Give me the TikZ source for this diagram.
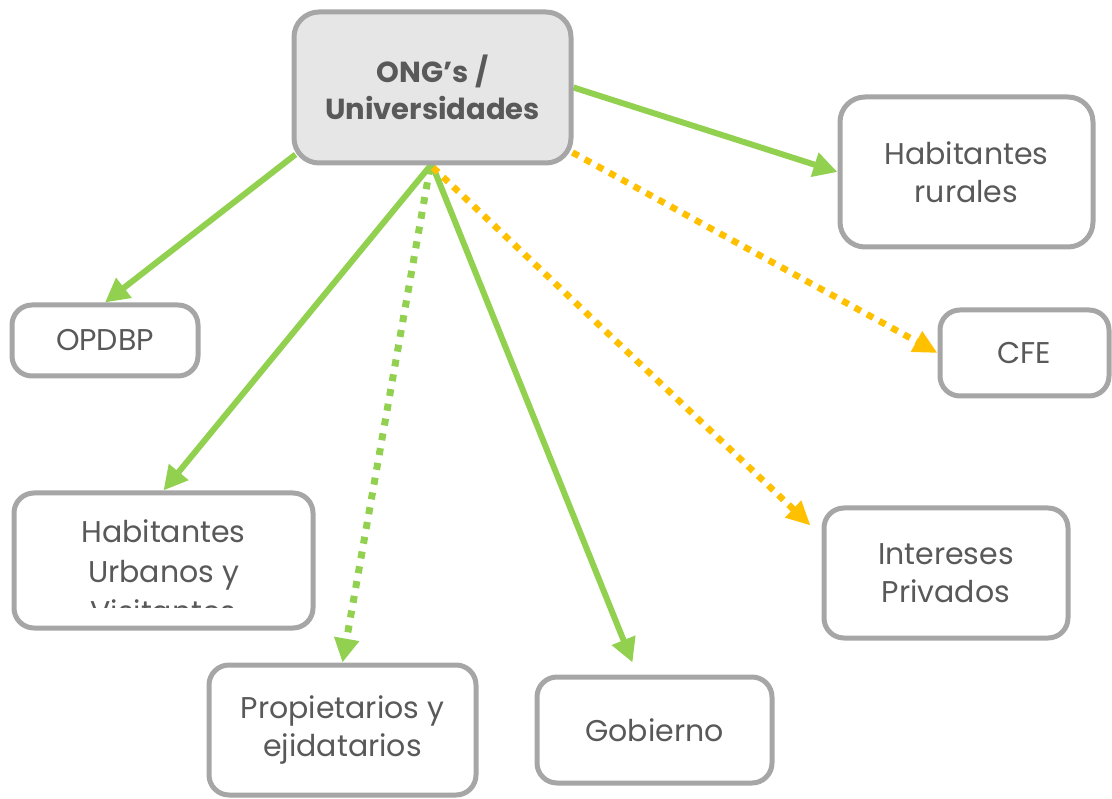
\documentclass[tikz,border=0pt]{standalone}
\usepackage{fontspec}
\setmainfont{Poppins}
\usetikzlibrary{arrows.meta,calc,backgrounds}
\definecolor{txt}{HTML}{595959}
\definecolor{brd}{HTML}{A6A6A6}
\definecolor{grn}{HTML}{92D050}
\definecolor{org}{HTML}{FFC000}
\definecolor{hdr}{HTML}{E6E6E6}
\begin{document}
\begin{tikzpicture}[x=1pt,y=-1pt,
  box/.style={draw=brd,line width=5pt,rounded corners=20pt,fill=white,inner sep=0pt,
    text=txt,font=\fontsize{30}{38}\selectfont,align=center},
  lbl/.style={inner sep=0pt,text=txt,font=\fontsize{30}{40}\selectfont,align=center},
  ga/.style={draw=grn,line width=6pt,-{Triangle[length=24pt,width=24pt]}},
  gd/.style={ga,line width=7pt,dash pattern=on 7pt off 8pt},
  oa/.style={draw=org,line width=6.5pt,dash pattern=on 7pt off 7pt,-{Triangle[length=24pt,width=22pt]}},
]
\useasboundingbox (0,0) rectangle (1112,799);

\node[box,fill=hdr,rounded corners=25pt,minimum width=277pt,minimum height=151pt,
      font=\fontsize{29}{37}\selectfont\bfseries] (ong) at (432.5,87.5) {ONG’s /\\Universidades};
\node[box,rounded corners=25pt,minimum width=253pt,minimum height=150pt] (rural) at (966.5,172) {Habitantes\\rurales};
\node[box,minimum width=186pt,minimum height=71pt] (opdbp) at (105,340.5) {OPDBP};
\node[box,minimum width=169pt,minimum height=86pt] (cfe) at (1024.5,353) {CFE};
\node[box,minimum width=299pt,minimum height=135pt] (urb) at (163.5,560.5) {};
\begin{scope}
  \clip (20,500) rectangle (308,607);
  \node[lbl] (urbtxt) at (163.5,571) {Habitantes\\Urbanos y\\Visitantes};
\end{scope}
\node[box,minimum width=244pt,minimum height=130pt] (int) at (946,573) {Intereses\\Privados};
\node[box,minimum width=267pt,minimum height=130pt] (prop) at (342.5,730) {Propietarios y\\ejidatarios};
\node[box,minimum width=235pt,minimum height=106pt] (gob) at (654.5,730) {Gobierno};

\begin{scope}[on background layer]
  \draw[ga] (ong.east) -- (rural.west);
  \draw[ga] ($(ong.south west)+(4,-11)$) -- (opdbp.north);
  \draw[ga] ($(ong.south)+(-2,0)$) -- (urb.north);
  \draw[ga] ($(ong.south)+(-0.5,-1)$) -- ($(gob.north)+(-22,-12)$);
  \draw[gd] ($(ong.south)+(-2.5,2)$) -- (prop.north);
  \draw[oa] ($(ong.south east)+(-1,-13)$) -- (cfe.west);
  \draw[oa] ($(ong.south)+(0.5,2)$) -- ($(int.north west)+(-11,20)$);
\end{scope}
\end{tikzpicture}
\end{document}
